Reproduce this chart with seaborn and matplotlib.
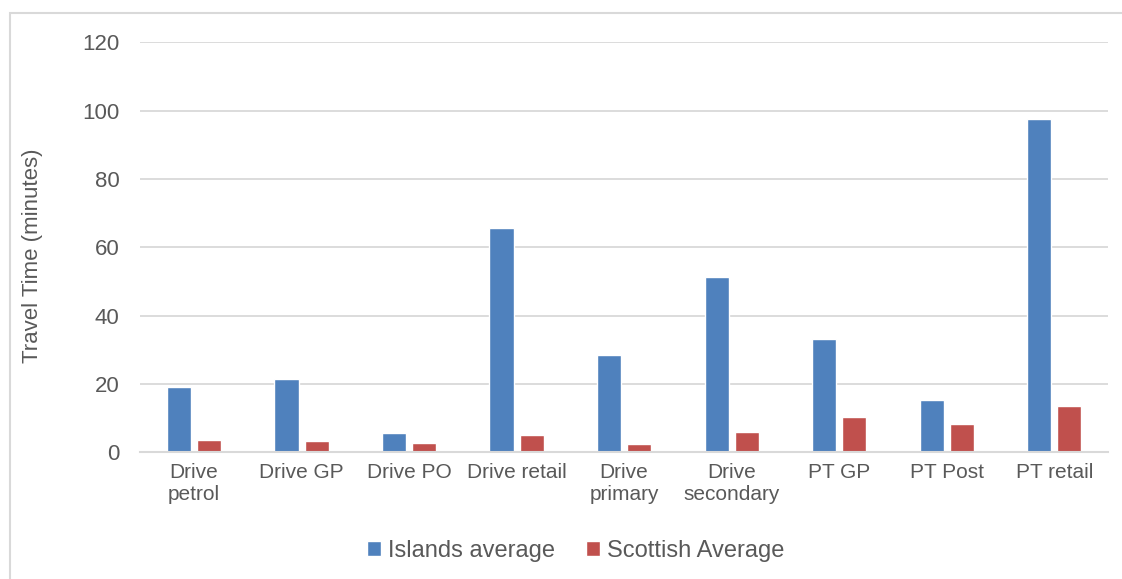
import matplotlib
matplotlib.use("Agg")
import matplotlib.pyplot as plt
from matplotlib.patches import Rectangle
import seaborn as sns
import pandas as pd

# values
categories = ["Drive\npetrol", "Drive GP", "Drive PO", "Drive retail", "Drive\nprimary",
              "Drive\nsecondary", "PT GP", "PT Post", "PT retail"]
islands_avg = [19.2, 21.3, 5.6, 65.6, 28.4, 51.4, 33.1, 15.4, 97.5]
scottish_avg = [3.5, 3.2, 2.6, 5.1, 2.4, 6.0, 10.2, 8.4, 13.5]
series_names = ["Islands average", "Scottish Average"]
y_ticks = [0, 20, 40, 60, 80, 100, 120]

df = pd.DataFrame({
    "category": categories * 2,
    "series": [series_names[0]] * len(categories) + [series_names[1]] * len(categories),
    "value": islands_avg + scottish_avg,
})

sns.set_style("white")
plt.rcParams["font.family"] = ["Liberation Sans", "DejaVu Sans"]
grey_text = "#595959"

fig = plt.figure(figsize=(11.22, 5.79), dpi=100)
ax = fig.add_axes([0.125, 0.219, 0.8625, 0.708])

sns.barplot(data=df, x="category", y="value", hue="series", order=categories,
            palette=["#4F81BD", "#C0504D"], width=0.56, gap=0.2,
            saturation=1, ax=ax, legend=True)

ax.set_ylim(0, 120)
ax.set_yticks(y_ticks)
ax.yaxis.grid(True, color="#D9D9D9", linewidth=1.3)
ax.set_axisbelow(True)
for s in ["top", "right", "left"]:
    ax.spines[s].set_visible(False)
ax.spines["bottom"].set_color("#D9D9D9")
ax.spines["bottom"].set_linewidth(1.5)
ax.tick_params(axis="both", length=0, colors=grey_text)
ax.tick_params(axis="x", labelsize=15, pad=8)
ax.tick_params(axis="y", labelsize=16, pad=15)
ax.set_xlabel("")
ax.set_ylabel("Travel Time (minutes)", fontsize=16, color=grey_text)
ax.yaxis.set_label_coords(-0.101, 0.48)

ax.get_legend().remove()
handles, labels = ax.get_legend_handles_labels()
fig.legend(handles, labels, loc="center", bbox_to_anchor=(0.513, 0.048), ncol=2,
           frameon=False, fontsize=17, labelcolor=grey_text, handlelength=0.6,
           handleheight=0.6, handletextpad=0.3, columnspacing=1.3)

# chart-area border (only the left and top edges are inside the picture)
fig.patches.append(Rectangle((10 / 1122, -0.1), 1.2, 1.1 - 13 / 579,
                             transform=fig.transFigure, fill=False,
                             edgecolor="#D9D9D9", linewidth=1.5))

fig.savefig("out.png", dpi=100)
